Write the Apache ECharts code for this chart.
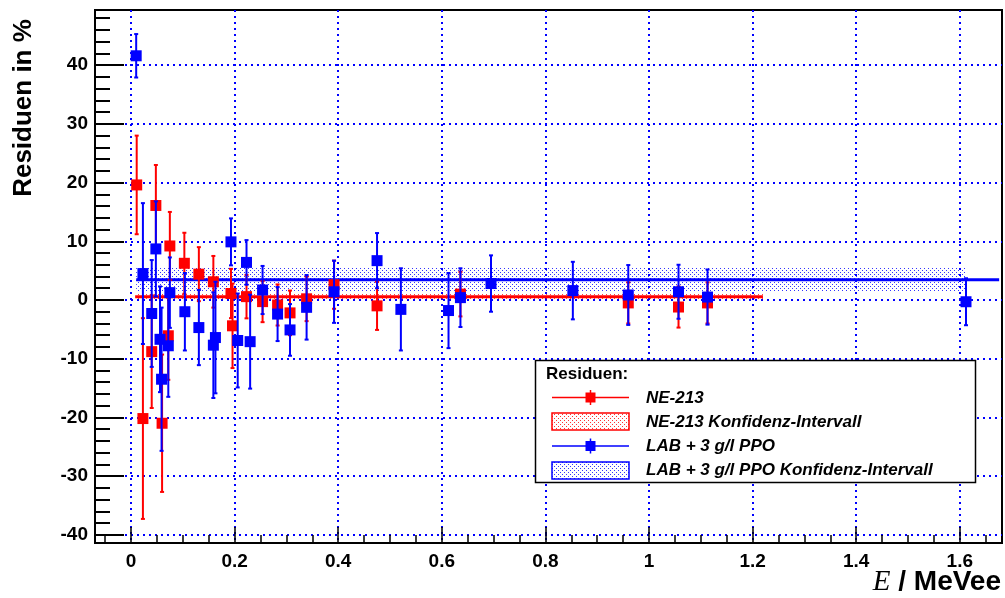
<!DOCTYPE html>
<html>
<head>
<meta charset="utf-8">
<script src="https://cdn.jsdelivr.net/npm/echarts@6/dist/echarts.min.js"></script>
<style>
html,body{margin:0;padding:0;background:#fff;}
#c{width:1005px;height:598px;}
</style>
</head>
<body>
<div id="c"></div>
<script>
// ---- data ----
const redX   = [0.011, 0.023, 0.040, 0.048, 0.060, 0.072, 0.075, 0.103, 0.131, 0.159, 0.193, 0.196, 0.223, 0.254, 0.283, 0.307, 0.339, 0.392, 0.475, 0.636, 0.960, 1.057, 1.113];
const redY   = [19.6, -20.2, -8.8, 16.1, -21.0, -6.1, 9.2, 6.25, 4.4, 3.1, 1.1, -4.4, 0.57, -0.28, -0.85, -2.2, 0.2, 2.6, -1.0, 1.0, -0.5, -1.2, -0.5];
const redErr = [8.4, 17.1, 9.6, 6.9, 11.7, 7.5, 5.8, 5.2, 4.6, 4.4, 4.2, 7.2, 3.7, 3.5, 3.5, 3.8, 3.8, 4.1, 4.1, 3.8, 3.5, 3.5, 3.5];

const blueX   = [0.010, 0.023, 0.040, 0.048, 0.056, 0.059, 0.072, 0.075, 0.104, 0.131, 0.159, 0.163, 0.193, 0.206, 0.223, 0.230, 0.254, 0.283, 0.307, 0.339, 0.392, 0.475, 0.521, 0.613, 0.636, 0.695, 0.853, 0.960, 1.057, 1.113, 1.612];
const blueY   = [41.6, 4.5, -2.3, 8.7, -6.7, -13.5, -7.8, 1.25, -2.0, -4.7, -7.7, -6.4, 9.9, -6.9, 6.4, -7.1, 1.7, -2.4, -5.1, -1.25, 1.4, 6.7, -1.6, -1.8, 0.4, 2.8, 1.6, 0.85, 1.4, 0.5, -0.3];
const blueErr = [3.7, 12.0, 9.1, 8.1, 9.0, 12.2, 8.7, 6.0, 6.6, 6.4, 9.0, 9.5, 4.0, 8.0, 3.8, 8.0, 4.1, 4.6, 4.4, 5.5, 5.3, 4.7, 7.0, 6.4, 5.0, 4.8, 4.9, 5.1, 4.6, 4.7, 4.0];

// confidence bands: [xStart, xEnd, low, centre, high], line end
const redBand  = [0.008, 1.22, 0.0, 0.55, 1.2];
const redLineEnd = 1.22;
const blueBand = [0.010, 1.612, 1.4, 3.45, 5.5];
const blueLineEnd = 1.676;

const xMajor = [0, 0.2, 0.4, 0.6, 0.8, 1, 1.2, 1.4, 1.6];
const xMinor = [-0.05, 0.05, 0.1, 0.15, 0.25, 0.3, 0.35, 0.45, 0.5, 0.55, 0.65, 0.7, 0.75, 0.85, 0.9, 0.95, 1.05, 1.1, 1.15, 1.25, 1.3, 1.35, 1.45, 1.5, 1.55, 1.65];
const yMajor = [-40, -30, -20, -10, 0, 10, 20, 30, 40];
const yMinor = [-38,-36,-34,-32,-28,-26,-24,-22,-18,-16,-14,-12,-8,-6,-4,-2,2,4,6,8,12,14,16,18,22,24,26,28,32,34,36,38,42,44,46,48];

const X_MIN = -0.0695, X_MAX = 1.6815, Y_MIN = -41.4, Y_MAX = 49.4;

const RED = '#ff0000', BLUE = '#0000ff';
const FONT = '"Liberation Sans", Arial, Helvetica, sans-serif';

function dotPattern(color){
  const c = document.createElement('canvas');
  c.width = 4; c.height = 4;
  const g = c.getContext('2d');
  g.fillStyle = color;
  g.fillRect(0,0,1,1);
  g.fillRect(2,2,1,1);
  return {image: c, repetition: 'repeat'};
}

function zip3(a,b,c){ return a.map((v,i)=>[v,b[i],c[i]]); }

function errRender(color){
  return function(params, api){
    const x = api.value(0), y = api.value(1), e = api.value(2);
    const t = api.coord([x, y + e]), b = api.coord([x, y - e]);
    const cap = 2;
    const st = {stroke: color, lineWidth: 2};
    return {type:'group', children:[
      {type:'line', shape:{x1:t[0], y1:t[1], x2:b[0], y2:b[1]}, style:st},
      {type:'line', shape:{x1:t[0]-cap, y1:t[1], x2:t[0]+cap, y2:t[1]}, style:st},
      {type:'line', shape:{x1:b[0]-cap, y1:b[1], x2:b[0]+cap, y2:b[1]}, style:st}
    ]};
  };
}

function bandRender(color){
  return function(params, api){
    const x0 = api.value(0), x1 = api.value(1), lo = api.value(2), hi = api.value(3);
    const p0 = api.coord([x0, hi]), p1 = api.coord([x1, lo]);
    return {type:'rect', shape:{x:p0[0], y:p0[1], width:p1[0]-p0[0], height:p1[1]-p0[1]},
            style:{fill: dotPattern(color)}};
  };
}

const chart = echarts.init(document.getElementById('c'), null, {renderer:'canvas'});

const gridLine = {show:true, lineStyle:{color:BLUE, type:[2,4], width:2}};

const option = {
  backgroundColor:'#fff',
  animation:false,
  grid:{left:95, right:3, top:10, bottom:55, show:true, borderColor:'#000', borderWidth:2, backgroundColor:'#fff', containLabel:false, outerBoundsMode:'none'},
  xAxis:[
    {type:'value', min:X_MIN, max:X_MAX, position:'bottom',
     axisLine:{show:true, onZero:false, lineStyle:{color:'#000', width:2}},
     axisTick:{show:true, inside:true, length:16, customValues:xMajor, lineStyle:{color:'#000', width:1.5}},
     axisLabel:{show:true, customValues:xMajor, margin:9, color:'#000', fontSize:19, fontWeight:'bold', fontFamily:FONT},
     splitLine:gridLine},
    {type:'value', min:X_MIN, max:X_MAX, position:'bottom',
     axisLine:{show:false, onZero:false},
     axisTick:{show:true, inside:true, length:8, customValues:xMinor, lineStyle:{color:'#000', width:1.5}},
     axisLabel:{show:false}, splitLine:{show:false}}
  ],
  yAxis:[
    {type:'value', min:Y_MIN, max:Y_MAX, position:'left',
     axisLine:{show:true, onZero:false, lineStyle:{color:'#000', width:2}},
     axisTick:{show:true, inside:true, length:29, customValues:yMajor, lineStyle:{color:'#000', width:2}},
     axisLabel:{show:true, customValues:yMajor, margin:7, color:'#000', fontSize:19, fontWeight:'bold', fontFamily:FONT},
     splitLine:gridLine},
    {type:'value', min:Y_MIN, max:Y_MAX, position:'left',
     axisLine:{show:false, onZero:false},
     axisTick:{show:true, inside:true, length:15, customValues:yMinor, lineStyle:{color:'#000', width:2}},
     axisLabel:{show:false}, splitLine:{show:false}}
  ],
  series:[
    {type:'custom', name:'NE-213 Konfidenz-Intervall', renderItem:bandRender('rgba(255,0,0,0.75)'), clip:true, z:2,
     data:[[redBand[0], redBand[1], redBand[2], redBand[4]]]},
    {type:'custom', name:'LAB + 3 g/l PPO Konfidenz-Intervall', renderItem:bandRender('rgba(0,0,255,0.8)'), clip:true, z:2,
     data:[[blueBand[0], blueBand[1], blueBand[2], blueBand[4]]]},
    {type:'line', name:'NE-213 fit', data:[[redBand[0], redBand[3]],[redLineEnd, redBand[3]]], symbol:'none', clip:true, z:3,
     lineStyle:{color:RED, width:3}},
    {type:'line', name:'LAB fit', data:[[blueBand[0], blueBand[3]],[blueLineEnd, blueBand[3]]], symbol:'none', clip:true, z:3,
     lineStyle:{color:BLUE, width:3}},
    {type:'custom', name:'NE-213 err', renderItem:errRender(RED), clip:true, z:4, data:zip3(redX, redY, redErr)},
    {type:'scatter', name:'NE-213', data:redX.map((x,i)=>[x, redY[i]]), symbol:'rect', symbolSize:11, z:5,
     itemStyle:{color:RED, opacity:1}},
    {type:'custom', name:'LAB err', renderItem:errRender(BLUE), clip:true, z:6, data:zip3(blueX, blueY, blueErr)},
    {type:'scatter', name:'LAB + 3 g/l PPO', data:blueX.map((x,i)=>[x, blueY[i]]), symbol:'rect', symbolSize:11, z:7,
     itemStyle:{color:BLUE, opacity:1}}
  ],
  graphic:[
    // axis titles
    {type:'text', x:24, y:108, rotation:Math.PI/2, z:100,
     style:{text:'Residuen in %', font:'bold 26px '+FONT, fill:'#000', align:'center', verticalAlign:'middle'}},
    {type:'text', x:1001, y:582, z:100,
     style:{text:'{e|E}{b| / MeVee}', align:'right', verticalAlign:'middle',
       rich:{e:{font:'italic 29px "Liberation Serif", "Times New Roman", serif', fill:'#000'},
             b:{font:'bold 28px '+FONT, fill:'#000'}}}},
    // legend box
    {type:'rect', z:100, shape:{x:535.5, y:360.5, width:440, height:122},
     style:{fill:'#fff', stroke:'#000', lineWidth:1.5}},
    {type:'text', z:101, x:546, y:374, style:{text:'Residuen:', font:'bold 17px '+FONT, fill:'#000', verticalAlign:'middle'}},
    // row 1
    {type:'line', z:101, shape:{x1:552, y1:397.5, x2:629, y2:397.5}, style:{stroke:RED, lineWidth:1.5}},
    {type:'line', z:101, shape:{x1:590.5, y1:390, x2:590.5, y2:405}, style:{stroke:RED, lineWidth:1.5}},
    {type:'rect', z:102, shape:{x:585.5, y:392.5, width:10, height:10}, style:{fill:RED}},
    {type:'text', z:101, x:646, y:398, style:{text:'NE-213', font:'italic bold 17px '+FONT, fill:'#000', verticalAlign:'middle'}},
    // row 2
    {type:'rect', z:101, shape:{x:552, y:413, width:77, height:17}, style:{fill:dotPattern('rgba(255,0,0,0.8)'), stroke:RED, lineWidth:1.5}},
    {type:'text', z:101, x:646, y:422, style:{text:'NE-213 Konfidenz-Intervall', font:'italic bold 17px '+FONT, fill:'#000', verticalAlign:'middle'}},
    // row 3
    {type:'line', z:101, shape:{x1:552, y1:446, x2:629, y2:446}, style:{stroke:BLUE, lineWidth:1.5}},
    {type:'line', z:101, shape:{x1:590.5, y1:438.5, x2:590.5, y2:453.5}, style:{stroke:BLUE, lineWidth:1.5}},
    {type:'rect', z:102, shape:{x:585.5, y:441, width:10, height:10}, style:{fill:BLUE}},
    {type:'text', z:101, x:646, y:446, style:{text:'LAB + 3 g/l PPO', font:'italic bold 17px '+FONT, fill:'#000', verticalAlign:'middle'}},
    // row 4
    {type:'rect', z:101, shape:{x:552, y:462, width:77, height:17}, style:{fill:dotPattern('rgba(0,0,255,0.8)'), stroke:BLUE, lineWidth:1.5}},
    {type:'text', z:101, x:646, y:470, style:{text:'LAB + 3 g/l PPO Konfidenz-Intervall', font:'italic bold 17px '+FONT, fill:'#000', verticalAlign:'middle'}}
  ]
};
chart.setOption(option);
</script>
</body>
</html>
